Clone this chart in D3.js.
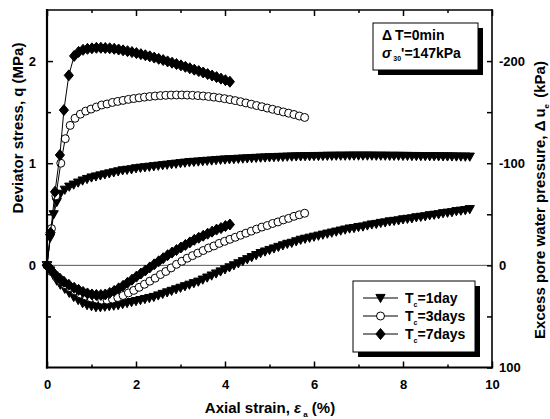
<!DOCTYPE html>
<html>
<head>
<meta charset="utf-8">
<script src="https://cdn.jsdelivr.net/npm/d3@7"></script>
<style>
  body { margin: 0; background: #fff; }
  svg { display: block; }
  text { font-family: "Liberation Sans", Arial, sans-serif; font-weight: bold; fill: #000; }
</style>
</head>
<body>
<svg id="chart" width="550" height="419"></svg>
<script>
// ---- Data: undrained triaxial compression, curing time Tc ----
// axial strain (%), deviator stress q (MPa), excess pore water pressure du (kPa)
const strain1d = [0,0.07,0.15,0.22,0.3,0.4,0.5,0.6,0.7,0.8,0.9,1.0,1.1,1.2,1.3,1.4,1.5,1.6,1.7,1.8,1.9,2.0,2.1,2.2,2.3,2.4,2.5,2.6,2.7,2.8,2.9,3.0,3.1,3.2,3.3,3.4,3.5,3.6,3.7,3.8,3.9,4.0,4.1,4.2,4.3,4.4,4.5,4.6,4.7,4.8,4.9,5.0,5.1,5.2,5.3,5.4,5.5,5.6,5.7,5.8,5.9,6.0,6.1,6.2,6.3,6.4,6.5,6.6,6.7,6.8,6.9,7.0,7.1,7.2,7.3,7.4,7.5,7.6,7.7,7.8,7.9,8.0,8.1,8.2,8.3,8.4,8.5,8.6,8.7,8.8,8.9,9.0,9.1,9.2,9.3,9.4,9.5];
const q1d = [0,0.27,0.5,0.62,0.70,0.74,0.77,0.79,0.81,0.83,0.845,0.86,0.87,0.88,0.89,0.90,0.91,0.92,0.93,0.935,0.94,0.95,0.955,0.96,0.965,0.97,0.975,0.98,0.985,0.99,0.995,1.0,1.005,1.01,1.013,1.016,1.02,1.023,1.026,1.03,1.033,1.036,1.038,1.04,1.043,1.045,1.047,1.05,1.052,1.054,1.056,1.058,1.06,1.061,1.062,1.064,1.065,1.066,1.067,1.068,1.069,1.07,1.07,1.071,1.072,1.072,1.073,1.073,1.073,1.074,1.074,1.074,1.074,1.074,1.074,1.073,1.073,1.073,1.072,1.072,1.072,1.071,1.071,1.07,1.07,1.069,1.069,1.068,1.068,1.067,1.067,1.066,1.066,1.065,1.065,1.064,1.064];
const du1d = [0,5,10,15,19,23,27,31,34,37,39,40,41,41,40.5,40,39.5,39,38,37,36,35,34,33,32,31,29.5,28,26.5,25,23.5,22,20.5,19,17.5,16,14,12,10,8,6,4,2,0,-2,-4,-6,-8,-10,-12,-13.5,-15,-16.5,-18,-19.5,-21,-22,-23.5,-25,-26,-27,-28,-29,-30,-31,-32,-33,-34,-35,-36,-36.5,-37.5,-38,-39,-40,-40.5,-41.5,-42,-43,-43.5,-44,-45,-45.5,-46,-47,-47.5,-48,-49,-49.5,-50,-51,-51.5,-52,-53,-53.5,-54,-55];

const strain3d = [0,0.1,0.2,0.31,0.41,0.52,0.63,0.75,0.87,0.99,1.11,1.23,1.35,1.47,1.59,1.71,1.83,1.95,2.07,2.19,2.31,2.43,2.55,2.67,2.79,2.91,3.03,3.15,3.27,3.39,3.51,3.63,3.75,3.87,3.99,4.11,4.23,4.35,4.47,4.59,4.71,4.83,4.95,5.07,5.19,5.31,5.43,5.55,5.67,5.79];
const q3d = [0,0.36,0.68,1.0,1.24,1.37,1.44,1.48,1.51,1.53,1.55,1.57,1.58,1.595,1.605,1.615,1.625,1.633,1.64,1.647,1.653,1.658,1.662,1.665,1.667,1.668,1.668,1.667,1.665,1.662,1.658,1.653,1.647,1.64,1.632,1.623,1.613,1.602,1.59,1.578,1.565,1.553,1.54,1.528,1.515,1.502,1.49,1.477,1.462,1.448];
const du3d = [0,6,11,15,19,22,25,28,30,32,33,34,34,33,31.5,29.5,27,24.5,21.5,18.5,15.5,12.5,9,6,2.5,-1,-4,-7,-9.5,-12,-14.5,-17,-19,-21.5,-23.5,-25.5,-27.5,-29.5,-31.5,-33.5,-35.5,-37.5,-39,-41,-42.5,-44.5,-46,-48,-49.5,-51];

const strain7d = [0,0.08,0.18,0.29,0.38,0.49,0.61,0.71,0.81,0.91,1.01,1.11,1.21,1.31,1.41,1.51,1.61,1.71,1.81,1.91,2.01,2.11,2.21,2.31,2.41,2.51,2.61,2.71,2.81,2.91,3.01,3.11,3.21,3.31,3.41,3.51,3.61,3.71,3.81,3.91,4.01,4.11];
const q7d = [0,0.32,0.72,1.08,1.52,1.86,2.05,2.09,2.11,2.12,2.125,2.13,2.13,2.128,2.125,2.12,2.113,2.105,2.097,2.088,2.078,2.068,2.057,2.046,2.034,2.022,2.01,1.997,1.984,1.971,1.958,1.944,1.93,1.916,1.902,1.888,1.873,1.858,1.843,1.828,1.813,1.798];
const du7d = [0,4,9,13,16,19,22,24,26,27.5,28.5,29,29,28.5,27,25,22.5,20,17,14,11,8,5,2,-1,-4,-7,-10,-12.5,-15,-17.5,-20,-22.5,-25,-27,-29,-31,-33,-35,-36.5,-38.5,-40];

// ---- Tick values ----
const xTicks = [0, 2, 4, 6, 8, 10];
const xMinorTicks = [1, 3, 5, 7, 9];
const qTicks = [0, 1, 2];
const qMinorTicks = [-0.5, 0.5, 1.5];
const duTicks = [-200, -100, 0, 100];
const duMinorTicks = [-150, -50, 50];

const legendLabels = ["1day", "3days", "7days"];

// ---- Layout ----
const frame = { left: 47, right: 492, top: 10, bottom: 367.5 };
const svg = d3.select("#chart");

const x = d3.scaleLinear().domain([0, 10]).range([frame.left, frame.right]);
const yQ = d3.scaleLinear().domain([-1, 2.5]).range([frame.bottom, frame.top]);
const yU = d3.scaleLinear().domain([100, -250]).range([frame.bottom, frame.top]);

// ---- Marker shapes ----
const markerShapes = {
  triangle: { d: "M-4.6,-3.6L4.6,-3.6L0,4.6Z", fill: "#000" },
  circle:   { d: "M4,0A4,4 0 1,1 -4,0A4,4 0 1,1 4,0Z", fill: "#fff" },
  diamond:  { d: "M0,-5.5L4.6,0L0,5.5L-4.6,0Z", fill: "#000" }
};

const series = [
  { label: legendLabels[0], strain: strain1d, q: q1d, du: du1d, marker: "triangle" },
  { label: legendLabels[1], strain: strain3d, q: q3d, du: du3d, marker: "circle" },
  { label: legendLabels[2], strain: strain7d, q: q7d, du: du7d, marker: "diamond" }
];

// zero reference line
svg.append("line")
  .attr("x1", frame.left).attr("x2", frame.right)
  .attr("y1", yQ(0)).attr("y2", yQ(0))
  .attr("stroke", "#555").attr("stroke-width", 1);

// ---- Curves ----
const curves = svg.append("g");
series.forEach(s => {
  const qPts = s.strain.map((e, i) => [e, s.q[i]]);
  const uPts = s.strain.map((e, i) => [e, s.du[i]]);
  const lineQ = d3.line().x(d => x(d[0])).y(d => yQ(d[1]));
  const lineU = d3.line().x(d => x(d[0])).y(d => yU(d[1]));
  const g = curves.append("g");
  g.append("path").attr("d", lineQ(qPts)).attr("fill", "none").attr("stroke", "#000").attr("stroke-width", 1);
  g.append("path").attr("d", lineU(uPts)).attr("fill", "none").attr("stroke", "#000").attr("stroke-width", 1);
  const shp = markerShapes[s.marker];
  const mk = g.append("g");
  mk.selectAll("path.q").data(qPts).join("path")
    .attr("d", shp.d)
    .attr("transform", d => `translate(${x(d[0])},${yQ(d[1])})`)
    .attr("fill", shp.fill).attr("stroke", "#000").attr("stroke-width", 1);
  mk.selectAll("path.u").data(uPts).join("path")
    .attr("d", shp.d)
    .attr("transform", d => `translate(${x(d[0])},${yU(d[1])})`)
    .attr("fill", shp.fill).attr("stroke", "#000").attr("stroke-width", 1);
});

// ---- Axes ----
function styleAxis(g, fontSize) {
  g.select(".domain").remove();
  g.selectAll(".tick line").attr("stroke", "#000").attr("stroke-width", 1.5);
  g.selectAll(".tick text")
    .attr("font-family", "'Liberation Sans', Arial, sans-serif")
    .attr("font-weight", "bold").attr("font-size", fontSize).attr("fill", "#000");
}
const fmt = d => String(d);

svg.append("g").attr("transform", `translate(${frame.left},0)`)
  .call(d3.axisLeft(yQ).tickValues(qTicks).tickSize(-6).tickPadding(11).tickFormat(fmt))
  .call(g => styleAxis(g, 13));
svg.append("g").attr("transform", `translate(${frame.left},0)`)
  .call(d3.axisLeft(yQ).tickValues(qMinorTicks).tickSize(-4).tickFormat(""))
  .call(g => styleAxis(g, 13));

svg.append("g").attr("transform", `translate(0,${frame.bottom})`)
  .call(d3.axisBottom(x).tickValues(xTicks).tickSize(-6).tickPadding(12).tickFormat(fmt))
  .call(g => styleAxis(g, 13));
svg.append("g").attr("transform", `translate(0,${frame.bottom})`)
  .call(d3.axisBottom(x).tickValues(xMinorTicks).tickSize(-3).tickFormat(""))
  .call(g => styleAxis(g, 13));

svg.append("g").attr("transform", `translate(0,${frame.top})`)
  .call(d3.axisTop(x).tickValues(xTicks).tickSize(-6).tickFormat(""))
  .call(g => styleAxis(g, 13));
svg.append("g").attr("transform", `translate(0,${frame.top})`)
  .call(d3.axisTop(x).tickValues(xMinorTicks).tickSize(-3).tickFormat(""))
  .call(g => styleAxis(g, 13));

svg.append("g").attr("transform", `translate(${frame.right},0)`)
  .call(d3.axisRight(yU).tickValues(duTicks).tickSize(-5).tickPadding(7).tickFormat(fmt))
  .call(g => styleAxis(g, 13));
svg.append("g").attr("transform", `translate(${frame.right},0)`)
  .call(d3.axisRight(yU).tickValues(duMinorTicks).tickSize(-5).tickFormat(""))
  .call(g => styleAxis(g, 13));

// frame
const fr = svg.append("g").attr("stroke", "#000").attr("stroke-linecap", "square");
fr.append("line").attr("x1", frame.left).attr("x2", frame.left).attr("y1", frame.top).attr("y2", frame.bottom).attr("stroke-width", 2.2);
fr.append("line").attr("x1", frame.left).attr("x2", frame.right).attr("y1", frame.bottom).attr("y2", frame.bottom).attr("stroke-width", 2.2);
fr.append("line").attr("x1", frame.left).attr("x2", frame.right).attr("y1", frame.top).attr("y2", frame.top).attr("stroke-width", 1.6);
fr.append("line").attr("x1", frame.right).attr("x2", frame.right).attr("y1", frame.top).attr("y2", frame.bottom).attr("stroke-width", 1.6);

// ---- Axis titles ----
svg.append("text")
  .attr("transform", "translate(18,128) rotate(-90)")
  .attr("text-anchor", "middle").attr("dy", "0.35em").attr("font-size", 15)
  .text("Deviator stress, q (MPa)");

const rt = svg.append("text")
  .attr("transform", "translate(540,200) rotate(-90)")
  .attr("text-anchor", "middle").attr("dy", "0.35em").attr("font-size", 15);
rt.append("tspan").text("Excess pore water pressure, Δ");
rt.append("tspan").attr("dx", 3).text("u");
rt.append("tspan").attr("font-size", 8).attr("dy", 4).text("e");
rt.append("tspan").attr("dy", -4).attr("dx", 2).text(" (kPa)");

const xt = svg.append("text")
  .attr("x", 270).attr("y", 413).attr("text-anchor", "middle").attr("font-size", 15);
xt.append("tspan").text("Axial strain, ");
xt.append("tspan").attr("font-style", "italic").text("ε");
xt.append("tspan").attr("font-size", 8).attr("dy", 4).attr("dx", 2).text("a");
xt.append("tspan").attr("dy", -4).text(" (%)");

// ---- Condition box ----
const cb = svg.append("g");
cb.append("rect").attr("x", 378).attr("y", 28).attr("width", 105).attr("height", 47).attr("fill", "#000");
cb.append("rect").attr("x", 373).attr("y", 23).attr("width", 105).attr("height", 47)
  .attr("fill", "#fff").attr("stroke", "#000").attr("stroke-width", 1);
const t1 = cb.append("text").attr("x", 382).attr("y", 40).attr("font-size", 14);
t1.append("tspan").text("Δ");
t1.append("tspan").attr("dx", 3).text("T=0min");
const t2 = cb.append("text").attr("x", 382).attr("y", 58).attr("font-size", 14);
t2.append("tspan").attr("font-style", "italic").text("σ");
t2.append("tspan").attr("font-size", 7).attr("dy", 3).attr("dx", 2).text("30");
t2.append("tspan").attr("dy", -3).text("'=147kPa");

// ---- Legend ----
const lg = svg.append("g");
lg.append("rect").attr("x", 358).attr("y", 286).attr("width", 122).attr("height", 71).attr("fill", "#000");
lg.append("rect").attr("x", 353).attr("y", 281).attr("width", 122).attr("height", 71)
  .attr("fill", "#fff").attr("stroke", "#000").attr("stroke-width", 1);
series.forEach((s, i) => {
  const yy = 298 + i * 18;
  lg.append("line").attr("x1", 363).attr("x2", 398).attr("y1", yy).attr("y2", yy)
    .attr("stroke", "#000").attr("stroke-width", 1);
  const shp = markerShapes[s.marker];
  lg.append("path").attr("d", shp.d).attr("transform", `translate(380.5,${yy})`)
    .attr("fill", shp.fill).attr("stroke", "#000").attr("stroke-width", 1);
  const tx = lg.append("text").attr("x", 405).attr("y", yy + 5).attr("font-size", 14);
  tx.append("tspan").text("T");
  tx.append("tspan").attr("font-size", 7).attr("dy", 4).text("c");
  tx.append("tspan").attr("dy", -4).text("=" + s.label);
});
</script>
</body>
</html>
